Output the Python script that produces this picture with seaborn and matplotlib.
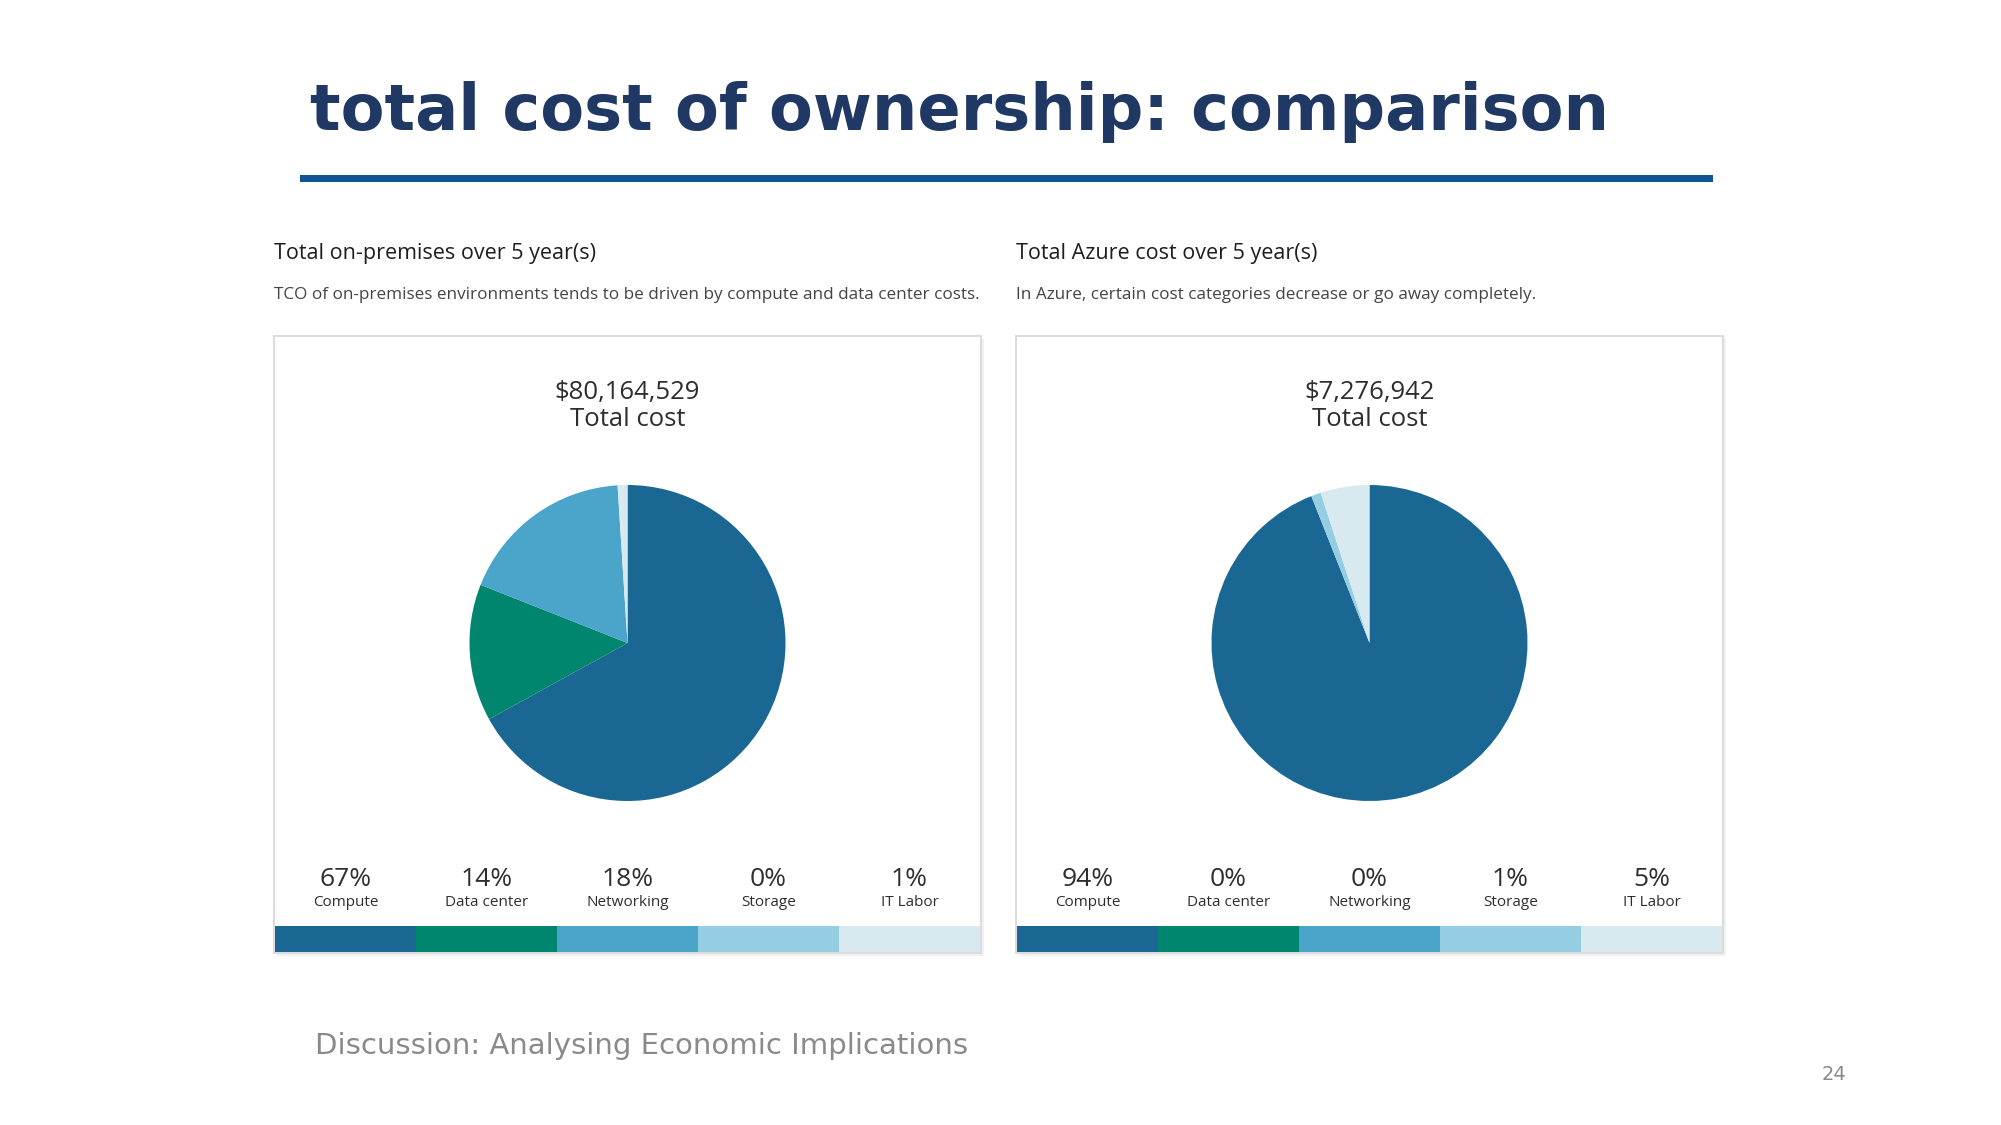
import matplotlib
matplotlib.use("Agg")
import matplotlib.pyplot as plt
import matplotlib.transforms as mtransforms
import seaborn as sns

# data
categories = ["Compute", "Data center", "Networking", "Storage", "IT Labor"]
onprem_pct = [67, 14, 18, 0, 1]
azure_pct = [94, 0, 0, 1, 5]
onprem_total = "$80,164,529"
azure_total = "$7,276,942"
colors = ["#1b6794", "#00866e", "#4ba5cb", "#95cde3", "#d8eaf0"]

panel_titles = ["Total on-premises over 5 year(s)", "Total Azure cost over 5 year(s)"]
panel_notes = ["TCO of on-premises environments tends to be driven by compute and data center costs.",
               "In Azure, certain cost categories decrease or go away completely."]

sns.set_theme(style="white")
plt.rcParams["font.family"] = ["DejaVu Sans"]

W, H = 2001, 1125
fig = plt.figure(figsize=(W / 100, H / 100), dpi=100)
fig.patch.set_facecolor("white")


def box(x, y, w, h):
    # pixel box (top-left origin) -> figure fractions
    return [x / W, 1 - (y + h) / H, w / W, h / H]


# slide title and rule
fig.text(310 / W, 1 - 112 / H, "total cost of ownership: comparison", fontsize=46,
         fontweight="bold", color="#1f3864", va="center", ha="left")
rule = fig.add_axes(box(300, 175, 1413, 7))
rule.set_facecolor("#0e5591")
rule.set_xticks([]); rule.set_yticks([])
for s in rule.spines.values():
    s.set_visible(False)

card_font = ["Open Sans", "DejaVu Sans"]
panels = [(274, onprem_pct, onprem_total), (1016, azure_pct, azure_total)]

for i, (x0, pct, total) in enumerate(panels):
    cw = 707
    fig.text(x0 / W, 1 - 253 / H, panel_titles[i], fontsize=15.5, color="#1e1e1e",
             family=card_font, va="center", ha="left")
    fig.text(x0 / W, 1 - 295 / H, panel_notes[i], fontsize=12.3, color="#444444",
             family=card_font, va="center", ha="left")

    # card background with a faint shadow
    shadow = fig.add_axes(box(x0 + 3, 339, cw, 617))
    shadow.set_facecolor("#f2f2f2")
    shadow.set_xticks([]); shadow.set_yticks([])
    for s in shadow.spines.values():
        s.set_visible(False)
    card = fig.add_axes(box(x0, 336, cw, 617))
    card.set_xticks([]); card.set_yticks([])
    card.set_facecolor("white")
    for s in card.spines.values():
        s.set_color("#dcdcdc")
        s.set_linewidth(1.5)

    cx = x0 + cw / 2
    fig.text(cx / W, 1 - 392 / H, total, fontsize=18.5, color="#2e2e2e",
             family=card_font, va="center", ha="center")
    fig.text(cx / W, 1 - 420 / H, "Total cost", fontsize=18.5, color="#2e2e2e",
             family=card_font, va="center", ha="center")

    # pie
    pie_ax = fig.add_axes(box(cx - 158, 485, 316, 316))
    vals = [v if v > 0 else 0.0001 for v in pct]
    pie_ax.pie(vals, colors=colors, startangle=90, counterclock=False, radius=1,
               wedgeprops=dict(linewidth=0))
    pie_ax.set_xlim(-1, 1); pie_ax.set_ylim(-1, 1)
    pie_ax.axis("off")

    # colour strip with labels
    bar_ax = fig.add_axes(box(x0 + 1, 926, cw - 2, 26))
    sns.barplot(x=categories, y=[1] * 5, hue=categories, palette=colors, width=1.0,
                saturation=1, legend=False, ax=bar_ax, linewidth=0)
    bar_ax.set_xlim(-0.5, 4.5); bar_ax.set_ylim(0, 1)
    bar_ax.axis("off")
    tr = mtransforms.blended_transform_factory(bar_ax.transData, fig.transFigure)
    for j, c in enumerate(categories):
        bar_ax.text(j, 1 - 879 / H, f"{pct[j]}%", transform=tr, fontsize=19,
                    color="#2e2e2e", family=card_font, ha="center", va="center")
        bar_ax.text(j, 1 - 902 / H, c, transform=tr, fontsize=11,
                    color="#2e2e2e", family=card_font, ha="center", va="center")

# footer
fig.text(315 / W, 1 - 1046 / H, "Discussion: Analysing Economic Implications",
         fontsize=21, color="#8a8a8a", va="center", ha="left")
fig.text(1834 / W, 1 - 1074 / H, "24", fontsize=14, color="#8a8a8a",
         va="center", ha="center")

fig.savefig("out.png", dpi=100, facecolor="white")
